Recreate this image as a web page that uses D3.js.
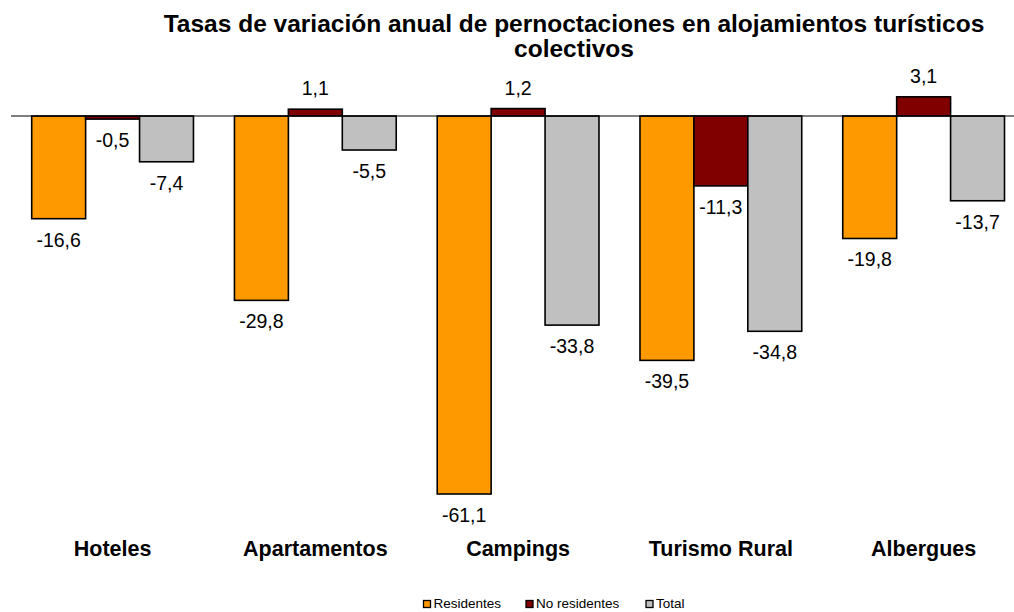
<!DOCTYPE html>
<html>
<head>
<meta charset="utf-8">
<script src="https://cdn.jsdelivr.net/npm/d3@7"></script>
<style>
  body { margin: 0; background: #fff; }
  svg { font-family: "Liberation Sans", Arial, sans-serif; }
</style>
</head>
<body>
<div id="chart"></div>
<script>
const categories = ['Hoteles', 'Apartamentos', 'Campings', 'Turismo Rural', 'Albergues'];
const seriesNames = ['Residentes', 'No residentes', 'Total'];
const residentes = [-16.6, -29.8, -61.1, -39.5, -19.8];
const noResidentes = [-0.5, 1.1, 1.2, -11.3, 3.1];
const total = [-7.4, -5.5, -33.8, -34.8, -13.7];
const colors = ['#ff9900', '#800000', '#c0c0c0'];

const width = 1014, height = 612;

const data = categories.map((c, i) => ({
  cat: c,
  values: [residentes[i], noResidentes[i], total[i]].map((v, j) => ({ key: seriesNames[j], value: v }))
}));

const svg = d3.select('#chart').append('svg')
  .attr('width', width)
  .attr('height', height);

const x0 = d3.scaleBand()
  .domain(categories)
  .range([11.2, 1025])
  .paddingInner(0)
  .paddingOuter(0);

const x1 = d3.scaleBand()
  .domain(seriesNames)
  .range([20.5, x0.bandwidth() - 20.5]);

const y = d3.scaleLinear()
  .domain([-61.1, 0])
  .range([494, 116]);

const fmt = d => d3.format('.1f')(d).replace('.', ',').replace('\u2212', '-');

// title
const title = svg.append('text')
  .attr('text-anchor', 'middle')
  .style('font-size', '24.5px').style('font-weight', 'bold');
title.append('tspan')
  .attr('x', 574).attr('y', 32)
  .text('Tasas de variación anual de pernoctaciones en alojamientos turísticos');
title.append('tspan')
  .attr('x', 574).attr('y', 57)
  .text('colectivos');

const groups = svg.selectAll('.grp')
  .data(data)
  .enter().append('g')
  .attr('class', 'grp')
  .attr('transform', d => 'translate(' + x0(d.cat) + ',0)');

groups.selectAll('rect')
  .data(d => d.values)
  .enter().append('rect')
  .attr('x', d => x1(d.key))
  .attr('y', d => y(Math.max(0, d.value)))
  .attr('width', x1.bandwidth())
  .attr('height', d => Math.abs(y(d.value) - y(0)))
  .attr('fill', (d, i) => colors[i])
  .attr('stroke', '#000')
  .attr('stroke-width', 1.6);

groups.selectAll('.lbl')
  .data(d => d.values)
  .enter().append('text')
  .attr('class', 'lbl')
  .attr('x', d => x1(d.key) + x1.bandwidth() / 2)
  .attr('y', d => d.value >= 0 ? y(d.value) - 14 : y(d.value) + 28)
  .attr('text-anchor', 'middle')
  .style('font-size', '19.5px')
  .text(d => fmt(d.value));

// zero line
svg.append('line')
  .attr('x1', 11).attr('x2', width)
  .attr('y1', y(0)).attr('y2', y(0))
  .attr('stroke', '#000').attr('stroke-width', 1);

// category labels
svg.selectAll('.cat')
  .data(categories)
  .enter().append('text')
  .attr('class', 'cat')
  .attr('x', d => x0(d) + x0.bandwidth() / 2)
  .attr('y', 556)
  .attr('text-anchor', 'middle')
  .style('font-size', '21.5px').style('font-weight', 'bold')
  .text(d => d);

// legend
const legendX = [423.5, 526, 646];
const legend = svg.selectAll('.leg')
  .data(seriesNames)
  .enter().append('g')
  .attr('class', 'leg')
  .attr('transform', (d, i) => 'translate(' + legendX[i] + ',600.5)');
legend.append('rect')
  .attr('width', 7).attr('height', 7)
  .attr('fill', (d, i) => colors[i])
  .attr('stroke', '#000').attr('stroke-width', 1.3);
legend.append('text')
  .attr('x', 10).attr('y', 7.5)
  .style('font-size', '13.5px')
  .text(d => d);
</script>
</body>
</html>
